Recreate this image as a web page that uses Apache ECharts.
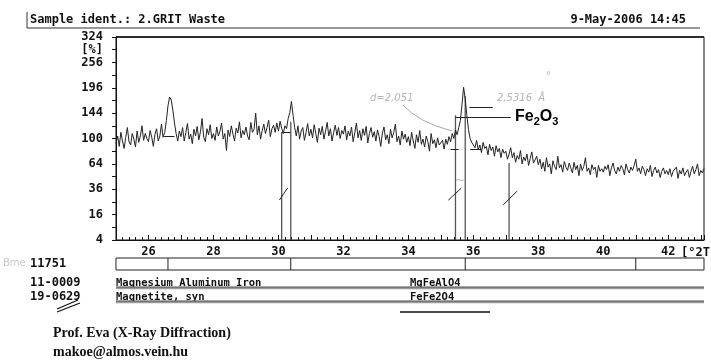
<!DOCTYPE html>
<html>
<head>
<meta charset="utf-8">
<script src="https://cdn.jsdelivr.net/npm/echarts@6/dist/echarts.min.js"></script>
<style>
  html, body { margin: 0; padding: 0; background: #fff; }
  #chart { width: 711px; height: 361px; }
</style>
</head>
<body>
<div id="chart"></div>
<script>
// scan: 25.00 .. 43.10 degrees 2theta, one reading every 0.05 degrees
const scanStart = 25.0;
const scanStep = 0.05;
const counts = [
  // 25
  92,104,88,110,96,85,102,118,95,90,108,99,87,112,94,104,121,97,108,100,
  // 26
  95,113,102,88,107,116,96,104,124,102,110,130,158,176,170,150,126,108,96,112,
  // 27
  103,118,96,110,125,99,107,92,115,104,120,98,111,134,102,95,116,106,123,100,
  // 28
  108,97,119,104,112,126,99,108,82,114,103,121,107,96,117,109,128,101,113,106,
  // 29
  119,104,98,127,110,115,144,106,121,99,113,124,108,118,131,103,116,122,110,126,
  // 30
  112,129,117,108,121,116,134,145,167,140,118,104,121,99,112,118,97,110,125,104,
  // 31
  115,101,123,108,94,117,106,120,99,112,127,104,116,96,110,122,105,118,100,113,
  // 32
  107,121,98,112,104,119,95,109,126,101,113,97,116,105,120,93,108,118,102,111,
  // 33
  96,114,103,88,109,119,98,106,92,115,101,110,124,95,104,90,112,99,107,94,
  // 34
  103,89,110,96,85,106,94,113,91,99,87,104,95,81,108,92,98,86,101,90,
  // 35
  88,97,84,99,91,103,95,108,100,114,106,118,130,160,197,172,140,115,100,94,
  // 36
  92,86,97,83,90,79,94,85,88,76,91,82,87,74,89,80,85,72,84,78,
  // 37
  81,70,77,86,72,79,66,75,70,82,64,73,68,77,62,71,80,65,69,74,
  // 38
  63,70,58,66,55,72,60,64,52,68,61,57,74,59,63,54,67,60,56,65,
  // 39
  59,53,66,57,62,50,64,56,61,72,55,59,51,63,57,60,48,62,55,58,
  // 40
  54,61,57,63,50,59,65,56,52,60,55,62,58,51,64,57,53,60,56,62,
  // 41
  70,55,59,52,61,57,50,58,54,62,49,56,60,53,57,48,55,59,52,56,
  // 42
  51,58,49,55,53,60,47,56,52,59,50,54,57,48,55,61,52,57,64,50,
  // 43
  56,53,58
];

// reference pattern sticks (2theta, counts at top)
const stickPos = [30.1, 30.38, 35.45, 35.75, 37.1];
const stickTop = [110, 128, 140, 178, 65];

// y tick labels (sqrt scale)
const yTickCounts = [4, 16, 36, 64, 100, 144, 196, 256, 324];
const xTickLabels = [26, 28, 30, 32, 34, 36, 38, 40, 42];

// strip below the plot
const stripMarks = [26.6, 30.38, 35.75, 41.0];
const phaseCodes = ['11-0009', '19-0629'];
const phaseNames = ['Magnesium Aluminum Iron', 'Magnetite, syn'];
const phaseFormulas = ['MgFeAlO4', 'FeFe2O4'];

const mono = 'DejaVu Sans Mono';
const chart = echarts.init(document.getElementById('chart'));

const trace = counts.map((c, i) => [+(scanStart + i * scanStep).toFixed(2), Math.sqrt(c)]);
const sticks = stickPos.map((x, i) => [x, stickTop[i]]);
const seg = (x1, c1, x2, c2) => [{ coord: [x1, Math.sqrt(c1)] }, { coord: [x2, Math.sqrt(c2)] }];

chart.setOption({
  animation: false,
  grid: { left: 116, right: 7, top: 37, bottom: 121, show: true, borderColor: '#111', borderWidth: 1 },
  xAxis: {
    type: 'value', min: 25, max: 43.1, interval: 1,
    axisLine: { lineStyle: { color: '#111' } },
    axisTick: { inside: true, length: 5, lineStyle: { color: '#111' } },
    minorTick: { show: true, splitNumber: 5, length: 3, lineStyle: { color: '#111' } },
    splitLine: { show: false },
    axisLabel: {
      margin: 6, color: '#111', fontFamily: mono, fontWeight: 'bold', fontSize: 12,
      showMaxLabel: false, showMinLabel: false,
      formatter: v => xTickLabels.includes(Math.round(v)) && Math.abs(v - Math.round(v)) < 1e-6 ? String(Math.round(v)) : ''
    }
  },
  yAxis: {
    type: 'value', min: 2, max: 18, interval: 1,
    axisLine: { show: true, lineStyle: { color: '#111' } },
    axisTick: { show: true, length: 4, lineStyle: { color: '#111' } },
    splitLine: { show: false },
    axisLabel: {
      margin: 13, color: '#111', fontFamily: mono, fontWeight: 'bold', fontSize: 12,
      formatter: v => {
        const r = Math.round(v);
        if (r === 17) return '[%]';
        const c = yTickCounts.find(t => Math.round(Math.sqrt(t)) === r);
        return c ? String(c) : '';
      }
    }
  },
  series: [
    {
      type: 'custom',
      data: sticks,
      z: 1,
      renderItem: (params, api) => {
        const p0 = api.coord([api.value(0), 2]);
        const p1 = api.coord([api.value(0), Math.sqrt(api.value(1))]);
        return { type: 'line', shape: { x1: p0[0], y1: p0[1], x2: p1[0], y2: p1[1] },
          style: { stroke: '#555', lineWidth: 1.3 } };
      }
    },
    {
      type: 'line',
      data: trace,
      z: 3,
      showSymbol: false,
      sampling: 'none',
      lineStyle: { color: '#222', width: 1 },
      markLine: {
        silent: true, symbol: 'none', label: { show: false },
        lineStyle: { color: '#222', width: 1, type: 'solid' },
        data: [
          seg(26.48, 104, 26.8, 104),
          seg(30.1, 110, 30.38, 110),
          seg(35.45, 137, 37.15, 137),
          seg(35.88, 155, 36.6, 155),
          seg(35.3, 84, 35.55, 84),
          seg(35.9, 84, 36.25, 84),
          seg(30.03, 26.5, 30.28, 37.1),
          seg(35.23, 26.5, 35.63, 37.1),
          seg(36.92, 22.7, 37.35, 34.3)
        ]
      }
    }
  ]
});

const px = (x, c) => chart.convertToPixel({ gridIndex: 0 }, [x, Math.sqrt(c)]);
const xL = px(25, 4)[0];
const xR = px(43.1, 4)[0];
const sx = x => px(x, 4)[0];

const g = [];
const txt = (x, y, s, st) => g.push({ type: 'text', x, y, silent: true,
  style: Object.assign({ text: s, fill: '#111', font: 'bold 12px "' + mono + '"', textVerticalAlign: 'middle' }, st) });
const ln = (x1, y1, x2, y2, stroke, w) => g.push({ type: 'line', silent: true,
  shape: { x1, y1, x2, y2 }, style: { stroke: stroke || '#111', lineWidth: w || 1 } });

// header
ln(27, 12, 27, 28, '#333', 1);
ln(27, 28, 700, 28, '#333', 1.2);
ln(116, 37, 704, 37, '#111', 1.5);
txt(30, 20, 'Sample ident.: 2.GRIT Waste');
txt(686, 20, '9-May-2006 14:45', { textAlign: 'right' });
txt(681, 253, '[°2Theta]');

// handwritten notes
txt(370, 98, 'd=2,051', { fill: '#b5b5b5', font: 'italic 10px "DejaVu Sans"' });
txt(497, 98, '2,5316  Å', { fill: '#b5b5b5', font: 'italic 10px "DejaVu Sans"' });
txt(546, 76, '°', { fill: '#b5b5b5', font: '10px "DejaVu Sans"' });
g.push({ type: 'bezierCurve', silent: true,
  shape: { x1: 403, y1: 105, cpx1: 418, cpy1: 122, x2: 452, y2: 131 },
  style: { stroke: '#aaa', lineWidth: 1, fill: null } });
txt(455, 181, '~', { fill: '#bbb', font: '12px "DejaVu Sans"' });
g.push({ type: 'text', x: 515, y: 117, silent: true,
  style: { text: '{a|Fe}{s|2}{a|O}{s|3}', textVerticalAlign: 'middle',
    rich: { a: { font: 'bold 16px "Liberation Sans"', fill: '#000', lineHeight: 20, verticalAlign: 'middle' },
            s: { font: 'bold 11px "Liberation Sans"', fill: '#000', lineHeight: 20, verticalAlign: 'bottom', padding: [6, 0, 0, 0] } } } });

// reference strip
txt(3, 263, 'Bme', { fill: '#c8c8c8', font: '10px "DejaVu Sans"' });
txt(30, 264, '11751');
g.push({ type: 'rect', silent: true, shape: { x: xL, y: 258, width: xR - xL, height: 12 },
  style: { fill: null, stroke: '#222', lineWidth: 1 } });
stripMarks.forEach(m => ln(sx(m), 258, sx(m), 270, '#222', 1));

// phase rows
const rowY = [283, 297];
rowY.forEach((y, i) => {
  txt(30, y, phaseCodes[i]);
  txt(xL, y, phaseNames[i], { font: 'bold 10.5px "' + mono + '"' });
  txt(410, y, phaseFormulas[i], { font: 'bold 10.5px "' + mono + '"' });
  ln(xL, y + 5, xR, y + 5, '#9a9a9a', 2.5);
  ln(xL, y + 4, xR, y + 4, '#444', 0.8);
});
ln(57, 309, 78, 300, '#111', 1.2);
ln(57, 312, 80, 303, '#111', 1.2);
ln(400, 312, 490, 312, '#111', 1.5);

// signature
txt(53, 333, 'Prof. Eva (X-Ray Diffraction)', { font: 'bold 14px "Liberation Serif"' });
txt(53, 352, 'makoe@almos.vein.hu', { font: 'bold 14px "Liberation Serif"' });

chart.setOption({ graphic: g });
</script>
</body>
</html>
